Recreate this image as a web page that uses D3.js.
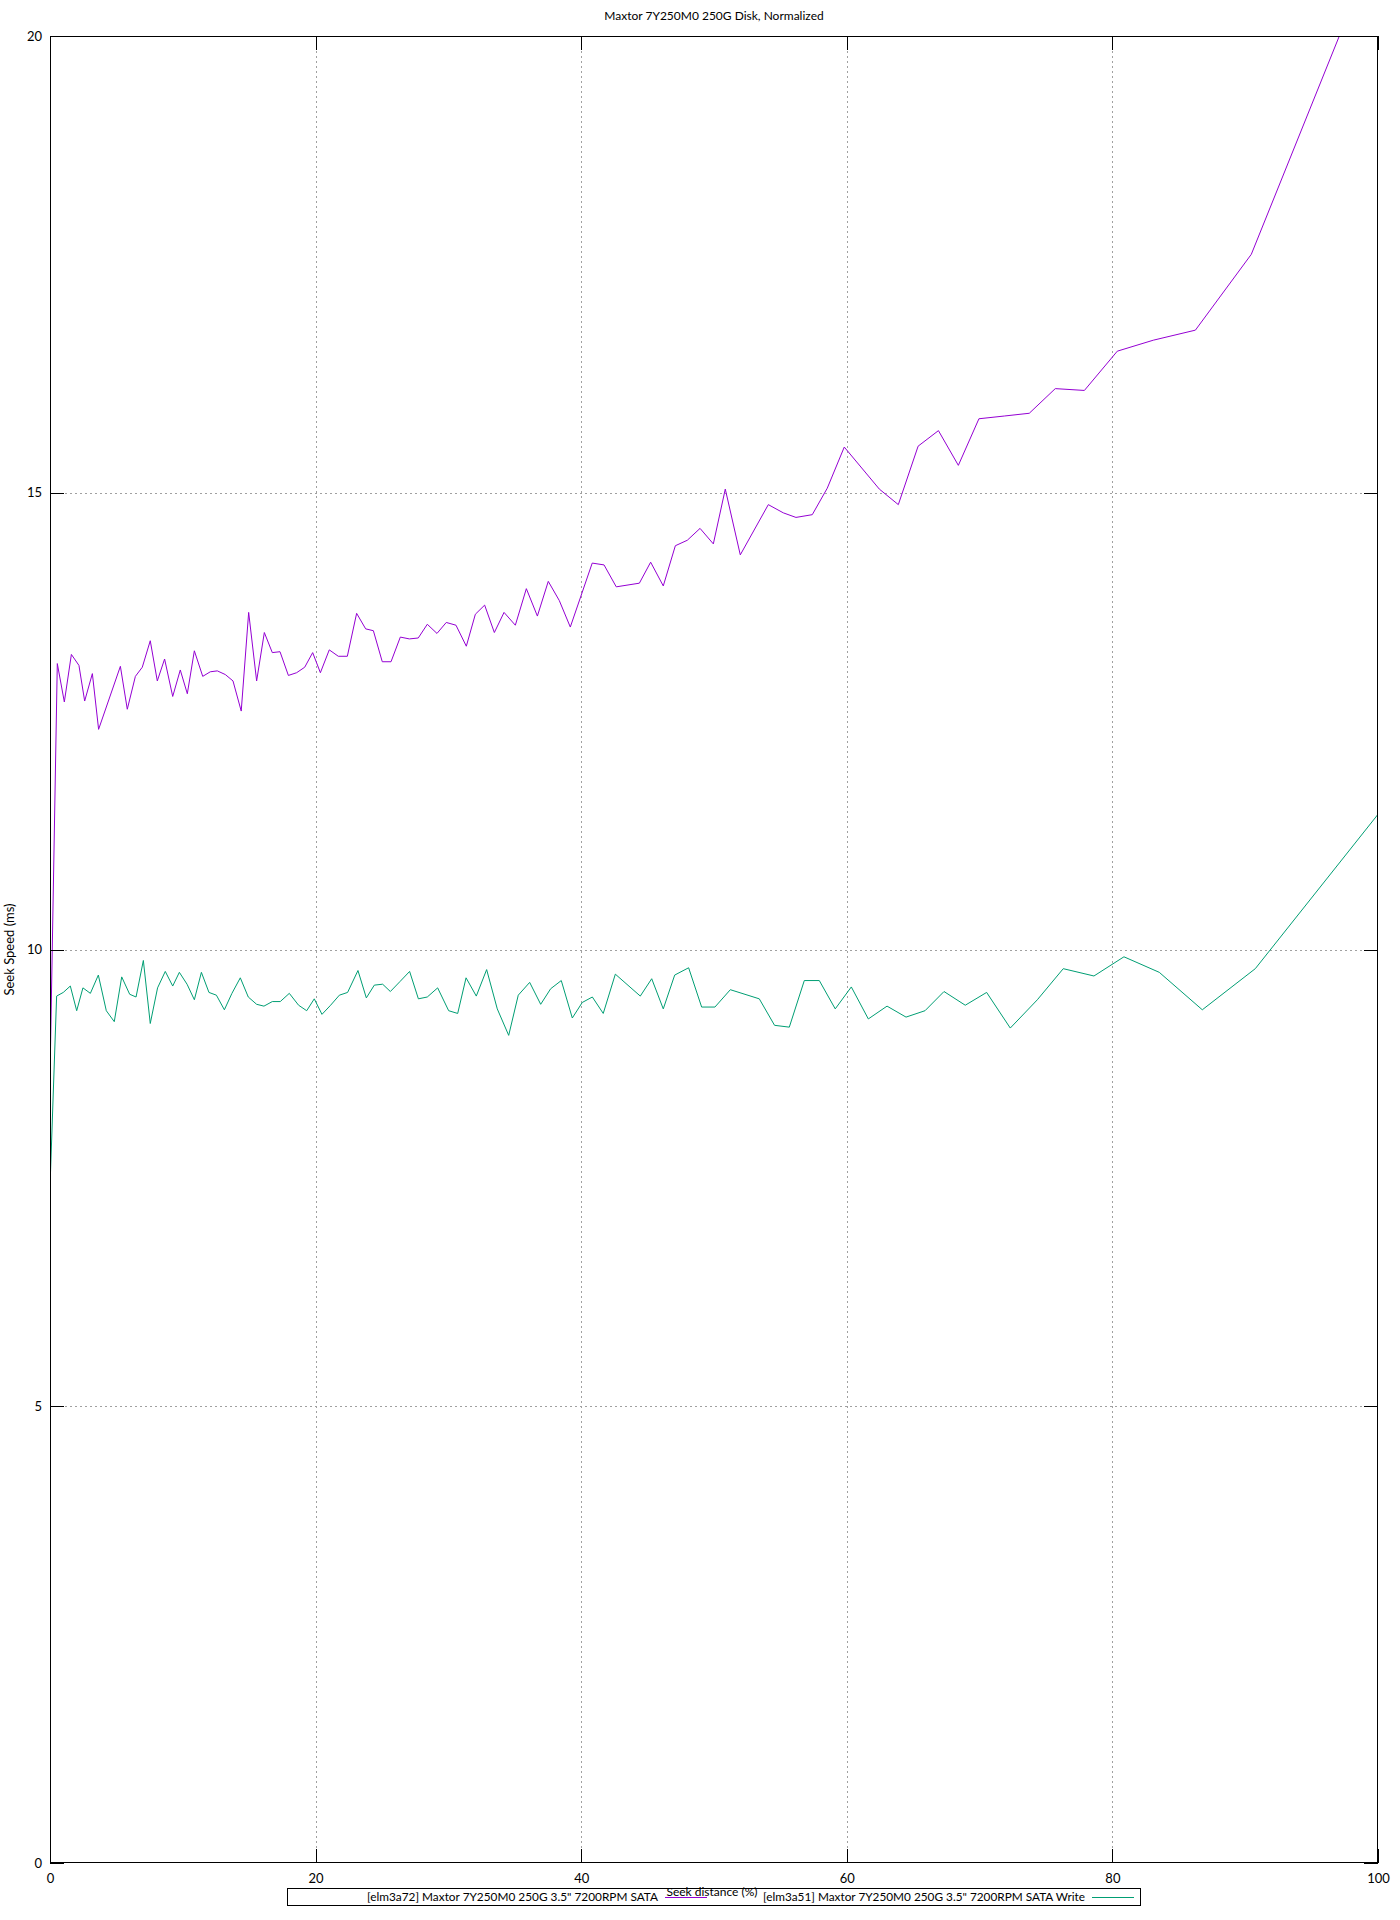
<!DOCTYPE html>
<html><head><meta charset="utf-8">
<script src="https://cdn.jsdelivr.net/npm/d3@7"></script>
<style>body{margin:0;background:#fff}svg{display:block}text{font-family:Lato,"Noto Sans",sans-serif;fill:#000}</style>
</head><body><svg id="c" width="1400" height="1920"></svg>
<script>
const title = "Maxtor 7Y250M0 250G Disk, Normalized";
const xLabel = "Seek distance (%)";
const yLabel = "Seek Speed (ms)";
const xTicks = [0, 20, 40, 60, 80, 100];
const yTicks = [0, 5, 10, 15, 20];
const seriesNames = ["[elm3a72] Maxtor 7Y250M0 250G 3.5\" 7200RPM SATA", "[elm3a51] Maxtor 7Y250M0 250G 3.5\" 7200RPM SATA Write"];
const seriesColors = ["#9400d3", "#009e73"];

const purpleX = [0,0.55,1.08,1.61,2.18,2.61,3.19,3.66,5.3,5.82,6.43,6.95,7.55,8.08,8.63,9.24,9.81,10.34,10.87,11.5,12.07,12.6,13.2,13.78,14.4,14.96,15.56,16.14,16.74,17.32,17.95,18.57,19.18,19.78,20.36,21.03,21.71,22.39,23.09,23.77,24.35,25.02,25.68,26.38,27.06,27.73,28.41,29.14,29.84,30.57,31.35,32.03,32.73,33.46,34.19,35.04,35.87,36.7,37.52,38.35,39.18,40.83,41.72,42.64,44.38,45.23,46.18,47.09,47.99,48.95,49.95,50.85,51.98,54.09,55.22,56.17,57.4,58.53,59.81,62.45,63.88,65.37,66.9,68.4,69.95,71.86,73.74,75.7,77.89,80.37,83.08,86.25,90.46,100];
const purpleY = [8.6,13.13,12.71,13.23,13.11,12.72,13.02,12.41,13.10,12.63,12.99,13.09,13.38,12.94,13.18,12.77,13.06,12.80,13.27,12.99,13.04,13.05,13.01,12.94,12.61,13.69,12.94,13.47,13.25,13.26,13.00,13.03,13.09,13.25,13.03,13.28,13.21,13.21,13.68,13.51,13.49,13.15,13.15,13.42,13.40,13.41,13.56,13.46,13.58,13.55,13.32,13.67,13.77,13.47,13.69,13.55,13.95,13.65,14.03,13.82,13.53,14.23,14.21,13.97,14.01,14.24,13.98,14.42,14.48,14.61,14.44,15.04,14.32,14.87,14.78,14.73,14.76,15.05,15.50,15.04,14.87,15.51,15.68,15.30,15.81,15.84,15.87,16.14,16.12,16.55,16.67,16.78,17.61,21.05];

const greenX = [0,0.5,1.0,1.53,2.01,2.48,3.04,3.64,4.24,4.84,5.4,6.0,6.48,7.03,7.55,8.1,8.68,9.24,9.74,10.32,10.87,11.4,11.97,12.53,13.13,13.7,14.33,14.93,15.56,16.11,16.74,17.34,18.02,18.72,19.33,19.9,20.48,21.13,21.79,22.41,23.19,23.82,24.42,25.05,25.63,26.36,27.08,27.74,28.41,29.19,30.02,30.7,31.33,32.1,32.88,33.68,34.54,35.26,36.12,36.95,37.7,38.5,39.33,40.08,40.84,41.66,42.57,44.45,45.31,46.18,47.04,48.09,49.07,50.07,51.23,53.41,54.56,55.67,56.8,57.93,59.13,60.34,61.62,63.03,64.46,65.89,67.32,68.92,70.53,72.31,74.35,76.3,78.61,80.87,83.53,86.77,90.76,100];
const greenY = [7.4,9.49,9.53,9.60,9.33,9.58,9.52,9.72,9.33,9.21,9.70,9.51,9.48,9.88,9.19,9.58,9.76,9.60,9.75,9.62,9.45,9.75,9.53,9.50,9.34,9.52,9.69,9.48,9.40,9.38,9.43,9.43,9.52,9.39,9.33,9.46,9.29,9.39,9.50,9.53,9.77,9.47,9.61,9.62,9.54,9.65,9.76,9.46,9.48,9.58,9.33,9.30,9.69,9.49,9.78,9.35,9.06,9.50,9.64,9.40,9.57,9.66,9.25,9.42,9.48,9.30,9.73,9.49,9.68,9.35,9.72,9.80,9.37,9.37,9.56,9.46,9.17,9.15,9.66,9.66,9.35,9.59,9.24,9.38,9.26,9.33,9.54,9.39,9.53,9.14,9.45,9.79,9.71,9.92,9.75,9.34,9.79,11.48];

const L = 50, R = 1378, T = 36, B = 1863;
const svg = d3.select("#c");
const x = d3.scaleLinear().domain([0, 100]).range([L, R]);
const y = d3.scaleLinear().domain([0, 20]).range([B, T]);

// grid
const gridX = svg.append("g").attr("transform", `translate(0,${B})`)
  .call(d3.axisBottom(x).tickValues(xTicks.slice(1, -1)).tickSize(-(B - T)).tickFormat(""));
const gridY = svg.append("g").attr("transform", `translate(${L},0)`)
  .call(d3.axisLeft(y).tickValues(yTicks.slice(1, -1)).tickSize(-(R - L)).tickFormat(""));
[gridX, gridY].forEach(g => {
  g.select(".domain").remove();
  g.selectAll("line").attr("stroke", "#a0a0a0").attr("stroke-dasharray", "2,3").attr("shape-rendering", "crispEdges");
});

// lines
svg.append("clipPath").attr("id", "clip").append("rect").attr("x", L).attr("y", T).attr("width", R - L).attr("height", B - T);
const line = d3.line().x(d => x(d[0])).y(d => y(d[1]));
const series = [d3.zip(purpleX, purpleY), d3.zip(greenX, greenY)];
series.forEach((s, i) => {
  svg.append("path").datum(s).attr("d", line).attr("fill", "none")
    .attr("stroke", seriesColors[i]).attr("stroke-width", 1).attr("clip-path", "url(#clip)");
});

// axes with inward ticks
function styleAxis(g, labels) {
  g.select(".domain").remove();
  g.selectAll("line").attr("stroke", "#000").attr("shape-rendering", "crispEdges");
  g.selectAll("text").style("font-size", "13px").style("font-family", "Lato, 'Noto Sans', sans-serif").attr("fill", "#000");
  if (!labels) g.selectAll("text").remove();
}
const axB = svg.append("g").attr("transform", `translate(0,${B})`)
  .call(d3.axisBottom(x).tickValues(xTicks).tickSizeInner(-14).tickSizeOuter(0).tickPadding(6));
styleAxis(axB, true);
axB.selectAll("text").attr("y", 11);
const axT = svg.append("g").attr("transform", `translate(0,${T})`)
  .call(d3.axisTop(x).tickValues(xTicks).tickSizeInner(-14).tickSizeOuter(0));
styleAxis(axT, false);
const axL = svg.append("g").attr("transform", `translate(${L},0)`)
  .call(d3.axisLeft(y).tickValues(yTicks).tickSizeInner(-14).tickSizeOuter(0));
styleAxis(axL, true);
axL.selectAll("text").attr("x", -8);
const axR = svg.append("g").attr("transform", `translate(${R},0)`)
  .call(d3.axisRight(y).tickValues(yTicks).tickSizeInner(-14).tickSizeOuter(0));
styleAxis(axR, false);

// frame
svg.append("rect").attr("x", L + 0.5).attr("y", T + 0.5).attr("width", R - L - 1).attr("height", B - T - 1)
  .attr("fill", "none").attr("stroke", "#000").attr("stroke-width", 1);

// title and labels
svg.append("text").attr("x", (L + R) / 2).attr("y", 20).attr("text-anchor", "middle").style("font-size", "12px").text(title);
svg.append("text").attr("transform", `translate(14,${(T + B) / 2}) rotate(-90)`).attr("text-anchor", "middle").style("font-size", "13px")
  .attr("textLength", 92).attr("lengthAdjust", "spacingAndGlyphs").text(yLabel);

// legend
const lg = svg.append("g");
lg.append("rect").attr("x", 287.5).attr("y", 1888.5).attr("width", 853).attr("height", 17).attr("fill", "none").attr("stroke", "#000");
const legendEnds = [658, 1085];
const legendStarts = [367, 763];
seriesNames.forEach((n, i) => {
  lg.append("text").attr("x", legendEnds[i]).attr("y", 1901).attr("text-anchor", "end").style("font-size", "12px")
    .attr("textLength", legendEnds[i] - legendStarts[i]).attr("lengthAdjust", "spacingAndGlyphs").text(n);
  lg.append("line").attr("x1", legendEnds[i] + 7).attr("x2", legendEnds[i] + 49).attr("y1", 1897.5).attr("y2", 1897.5)
    .attr("stroke", seriesColors[i]).attr("stroke-width", 1);
});
svg.append("text").attr("x", 712).attr("y", 1896).attr("text-anchor", "middle").style("font-size", "12px").text(xLabel);
</script></body></html>
